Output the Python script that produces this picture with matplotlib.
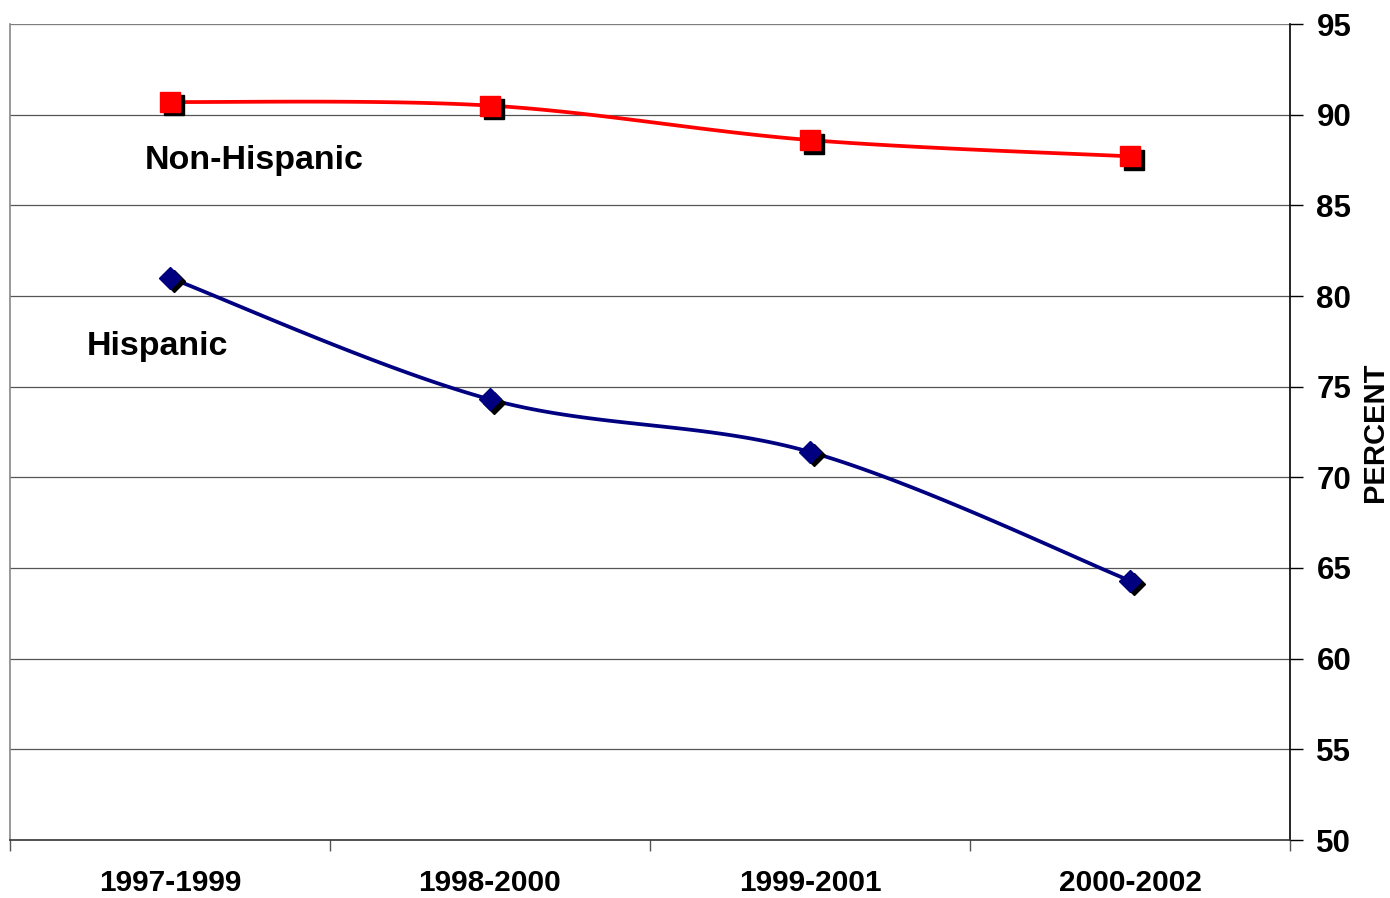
import numpy as np
import matplotlib
matplotlib.use("Agg")
import matplotlib.pyplot as plt
import matplotlib.transforms as mtransforms

categories = ["1997-1999", "1998-2000", "1999-2001", "2000-2002"]
non_hispanic = [90.7, 90.5, 88.6, 87.7]
hispanic = [81.0, 74.3, 71.4, 64.3]
yticks = [50, 55, 60, 65, 70, 75, 80, 85, 90, 95]

plt.rcParams['font.family'] = ['Liberation Sans', 'DejaVu Sans']
plt.rcParams['font.weight'] = 'bold'


def smooth(x, y, n=40):
    x = np.asarray(x, float); y = np.asarray(y, float)
    px = np.concatenate([[x[0]], x, [x[-1]]])
    py = np.concatenate([[y[0]], y, [y[-1]]])
    xs, ys = [], []
    for i in range(1, len(px) - 2):
        p0, p1, p2, p3 = (np.array([px[j], py[j]]) for j in (i - 1, i, i + 1, i + 2))
        c1 = p1 + (p2 - p0) / 6.0
        c2 = p2 - (p3 - p1) / 6.0
        t = np.linspace(0, 1, n)[:, None]
        b = ((1 - t) ** 3) * p1 + 3 * ((1 - t) ** 2) * t * c1 + 3 * (1 - t) * t ** 2 * c2 + t ** 3 * p2
        xs.append(b[:, 0]); ys.append(b[:, 1])
    return np.concatenate(xs), np.concatenate(ys)


fig = plt.figure(figsize=(13.9, 8.98), dpi=100)
ax = fig.add_axes([10 / 1390, 58 / 898, 1280 / 1390, 816 / 898])
x = np.arange(len(categories))

ax.set_xlim(-0.5, len(categories) - 0.5)
ax.set_ylim(50, 95)
ax.set_yticks(yticks)
for yv in yticks[1:]:
    ax.axhline(yv, color='#555555', lw=0.9, zorder=1)
ax.axhline(95, color='#888888', lw=1.2, zorder=1)

shadow = mtransforms.offset_copy(ax.transData, fig=fig, x=3.5, y=-3.5, units='dots')

for vals, col, mk, ms in [(non_hispanic, '#ff0000', 's', 14), (hispanic, '#000080', 'D', 11)]:
    sx, sy = smooth(x, vals)
    ax.plot(sx, sy, color=col, lw=2.7, zorder=3, solid_capstyle='round')
    ax.plot(x, vals, linestyle='none', marker=mk, ms=ms, color='black', mec='black',
            transform=shadow, zorder=4)
    ax.plot(x, vals, linestyle='none', marker=mk, ms=ms, color=col, mec=col, zorder=5)

ax.text(-0.078, 87.5, "Non-Hispanic", fontsize=24.5, fontweight='bold', va='center', ha='left')
ax.text(-0.26, 77.2, "Hispanic", fontsize=24.5, fontweight='bold', va='center', ha='left')

ax.yaxis.tick_right()
ax.yaxis.set_label_position('right')
ax.set_ylabel("PERCENT", fontsize=21, fontweight='bold', labelpad=7)
ax.tick_params(axis='y', direction='out', length=9, width=1, pad=10, labelsize=22.5, colors='black')

ax.set_xticks(np.arange(-0.5, len(categories), 1.0))
ax.set_xticklabels([])
ax.set_xticks(x, minor=True)
ax.set_xticklabels(categories, minor=True, fontsize=21.5, fontweight='bold')
ax.tick_params(axis='x', which='major', direction='out', length=8, width=1, color='#555555')
ax.tick_params(axis='x', which='minor', length=0, pad=21)

ax.spines['top'].set_visible(False)
ax.spines['left'].set_color('#888888')
ax.spines['right'].set_color('black')
ax.spines['bottom'].set_color('#333333')
for s in ax.spines.values():
    s.set_linewidth(1.2)

fig.savefig("out.png", dpi=100)
